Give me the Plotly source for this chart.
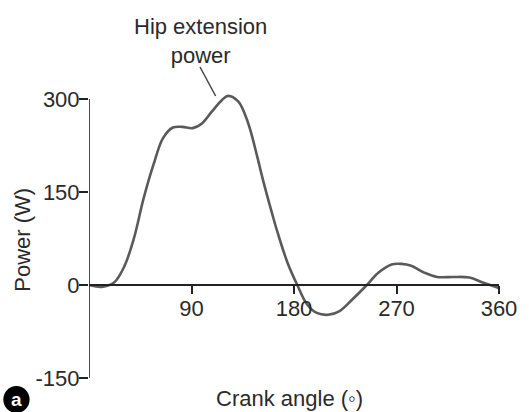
import plotly.graph_objects as go

# Data
angle = [0, 5, 11, 22, 31, 39.4, 48, 56.6, 65, 73.7, 82, 91, 99.4, 108, 116.6, 122,
         131, 139.4, 148, 152.4, 161.1, 165.7, 174.3, 182.9, 191.4, 200, 210, 220,
         231.4, 242.9, 254.3, 265.7, 274.3, 282.9, 294.3, 305.7, 320, 334, 345.7, 358.6, 360]
power = [0, -2, -3, 4, 30, 75, 140, 194, 237, 254, 255, 253, 261, 280, 298, 305,
         296, 263, 205, 172, 113, 84, 36, 0, -31, -45, -48, -42,
         -23, -2, 20, 33, 34, 31, 20, 13, 13, 12, 4, -4, -5]

x_ticks = [90, 180, 270, 360]
x_tick_labels = ["90", "180", "270", "360"]
y_ticks = [-150, 0, 150, 300]
y_tick_labels = ["-150", "0", "150", "300"]

FONT = "Liberation Sans, Arial, Helvetica, sans-serif"
TXT = "#2a2a2a"
FS = 22

# geometry (pixels)
L, R, T, B = 89, 19, 90, 34
W, H = 529, 412
PW, PH = W - L - R, H - T - B
Y_MIN = -150
Y_MAX = Y_MIN + PH / 0.62   # keeps 0.62 px per W, room above 300 for the peak


def px(xp):
    return (xp - L) / PW


def py(yp):
    return (H - B - yp) / PH


fig = go.Figure()
fig.add_trace(go.Scatter(
    x=angle, y=power, mode="lines",
    line=dict(color="#5a5a5a", width=2.6, shape="spline", smoothing=1.0),
    hoverinfo="skip", showlegend=False,
))

fig.update_layout(
    width=W, height=H,
    margin=dict(l=L, r=R, t=T, b=B),
    paper_bgcolor="white", plot_bgcolor="white",
    font=dict(family=FONT, size=FS, color=TXT),
    xaxis=dict(
        range=[0, 360], anchor="free", position=(0 - Y_MIN) / (Y_MAX - Y_MIN),
        tickvals=x_ticks, ticktext=x_tick_labels,
        ticks="outside", ticklen=8, tickwidth=1.5, tickcolor="#222",
        showline=True, linecolor="#222", linewidth=1.6,
        showgrid=False, zeroline=False, ticklabelstandoff=-4,
        tickfont=dict(family=FONT, size=FS, color=TXT),
    ),
    yaxis=dict(
        range=[Y_MIN, Y_MAX],
        tickvals=y_ticks, ticktext=y_tick_labels,
        ticks="outside", ticklen=9, tickwidth=1.5, tickcolor="#222",
        showline=False, showgrid=False, zeroline=False, ticklabelstandoff=-5,
        tickfont=dict(family=FONT, size=FS, color=TXT),
    ),
)

# y-axis line from -150 to 300
fig.add_shape(type="line", xref="x", yref="y", x0=0, x1=0, y0=y_ticks[0], y1=y_ticks[-1],
              line=dict(color="#222", width=1.6))

# Label and leader line
fig.add_annotation(
    x=px(203), y=py(41), xref="paper", yref="paper", xanchor="center", yanchor="middle",
    text="Hip extension<br>power", showarrow=False,
    font=dict(family=FONT, size=FS, color=TXT),
)
fig.add_shape(type="line", xref="paper", yref="paper",
              x0=px(203), y0=py(67), x1=px(219), y1=py(96),
              line=dict(color="#444", width=1.5))

# Axis titles
fig.add_annotation(
    x=px(295), y=py(398), xref="paper", yref="paper", xanchor="center", yanchor="middle",
    text="Crank angle (◦)", showarrow=False,
    font=dict(family=FONT, size=FS, color=TXT),
)
fig.add_annotation(
    x=px(21), y=py(240), xref="paper", yref="paper", xanchor="center", yanchor="middle",
    text="Power (W)", textangle=-90, showarrow=False,
    font=dict(family=FONT, size=FS, color=TXT),
)

# Panel marker "a"
fig.add_shape(type="circle", xref="paper", yref="paper",
              x0=px(1), x1=px(28), y0=py(413), y1=py(386),
              fillcolor="black", line=dict(color="black", width=0))
fig.add_annotation(
    x=px(14.5), y=py(399), xref="paper", yref="paper", xanchor="center", yanchor="middle",
    text="<b>a</b>", showarrow=False,
    font=dict(family=FONT, size=19, color="white"),
)

fig.write_html("out.html")
